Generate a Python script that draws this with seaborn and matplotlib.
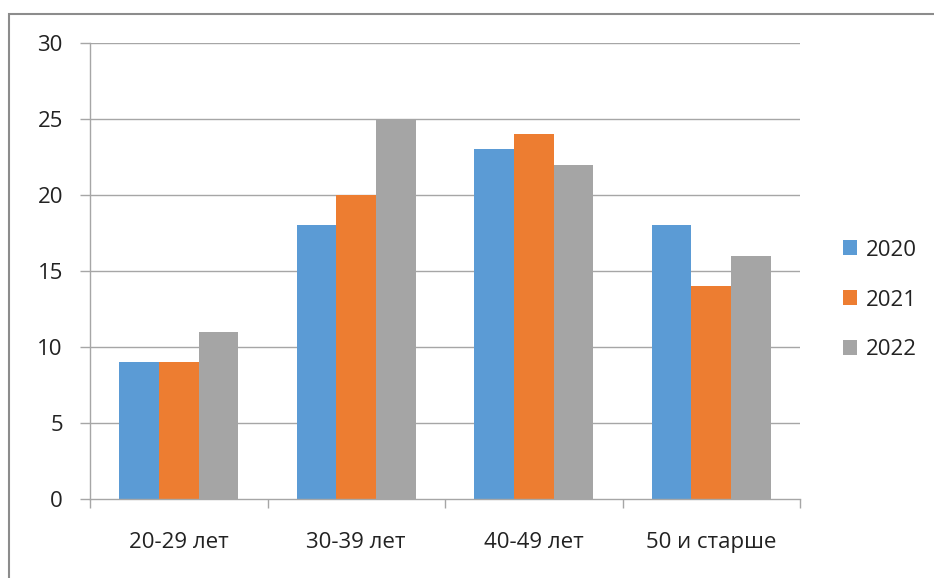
import matplotlib
matplotlib.use("Agg")
import matplotlib.pyplot as plt
import seaborn as sns
import pandas as pd
from matplotlib.patches import Rectangle
from matplotlib.ticker import FixedLocator

categories = ["20-29 лет", "30-39 лет", "40-49 лет", "50 и старше"]
years = ["2020", "2021", "2022"]
values_2020 = [9, 18, 23, 18]
values_2021 = [9, 20, 24, 14]
values_2022 = [11, 25, 22, 16]
colors = ["#5B9BD5", "#ED7D31", "#A5A5A5"]
yticks = [0, 5, 10, 15, 20, 25, 30]

rows = []
for y, vals in zip(years, [values_2020, values_2021, values_2022]):
    for c, v in zip(categories, vals):
        rows.append({"cat": c, "year": y, "val": v})
df = pd.DataFrame(rows)

sns.set_style("white")
plt.rcParams["font.family"] = ["Open Sans", "DejaVu Sans"]

W, H = 934, 578
FS = 16
fig = plt.figure(figsize=(W / 100, H / 100), dpi=100)
ax = fig.add_axes([90 / W, 1 - 499 / H, 710 / W, 456 / H])

sns.barplot(data=df, x="cat", y="val", hue="year", hue_order=years,
            palette=colors, width=0.67, gap=0, saturation=1, ax=ax,
            edgecolor="none", linewidth=0, legend=True)

grid_c = "#A6A6A6"
ax.set_xlim(-0.5, 3.5)
ax.set_ylim(0, 30)
ax.set_yticks(yticks)
ax.set_yticklabels([str(t) for t in yticks])
for t in yticks[1:]:
    ax.axhline(t, color=grid_c, lw=1, zorder=0)
ax.set_xlabel("")
ax.set_ylabel("")
for s in ["top", "right"]:
    ax.spines[s].set_visible(False)
for s in ["left", "bottom"]:
    ax.spines[s].set_color(grid_c)
    ax.spines[s].set_linewidth(1)

ax.tick_params(axis="y", which="major", direction="out", length=7.5, width=1,
               color=grid_c, pad=12, labelsize=FS, labelcolor="#222222", left=True)
ax.tick_params(axis="x", which="major", length=0, pad=24, labelsize=FS,
               labelcolor="#222222")
ax.xaxis.set_minor_locator(FixedLocator([-0.5, 0.5, 1.5, 2.5, 3.5]))
ax.tick_params(axis="x", which="minor", direction="out", length=6.5, width=1,
               color=grid_c, bottom=True)

handles, labels = ax.get_legend_handles_labels()
ax.legend(handles, labels, loc="center left",
          bbox_to_anchor=(823 / W, 1 - 300 / H), bbox_transform=fig.transFigure,
          frameon=False, fontsize=FS, labelspacing=1.3, handlelength=0.65,
          handleheight=0.65, handletextpad=0.4, labelcolor="#222222")

fig.patches.append(Rectangle((9 / W, -0.05), 1.05, 1.05 - 14 / H + 0.0,
                             transform=fig.transFigure, fill=False,
                             edgecolor="#8C8C8C", lw=1.5, clip_on=False))

fig.savefig("out.png", dpi=100)
